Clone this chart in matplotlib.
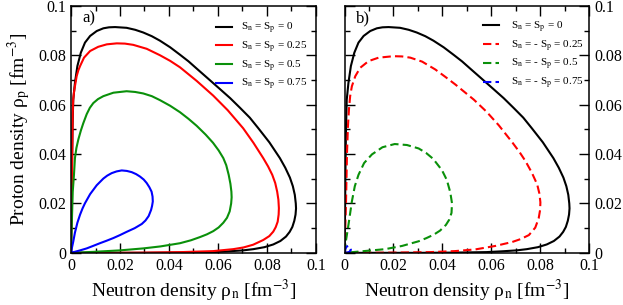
import numpy as np
import matplotlib
matplotlib.use("Agg")
from matplotlib import pyplot as plt
from matplotlib.ticker import MultipleLocator, FixedLocator, FixedFormatter

plt.rcParams["font.family"] = "serif"
plt.rcParams["font.serif"] = ["Liberation Serif", "DejaVu Serif"]
plt.rcParams["mathtext.fontset"] = "stix"

# curve shared by both panels (Sn = Sp = 0)
BLACK_X = [0, 0.0002, 0.0004, 0.0006, 0.0009, 0.0016, 0.0026, 0.004, 0.0057, 0.0078, 0.0105,
           0.0132, 0.0155, 0.018, 0.0227, 0.0262, 0.0295, 0.033, 0.0363, 0.0405, 0.0445,
           0.048, 0.0513, 0.056, 0.0608, 0.065, 0.069, 0.073, 0.0765, 0.081, 0.0853, 0.0875,
           0.0894, 0.0906, 0.0914, 0.0918, 0.0919, 0.0917, 0.0912, 0.0904, 0.0893, 0.0878,
           0.0855, 0.0826, 0.079, 0.0745, 0.0703, 0.064, 0.058, 0.045, 0.03, 0]
BLACK_Y = [0, 0.015, 0.035, 0.05, 0.062, 0.0689, 0.0757, 0.0811, 0.0852, 0.0879, 0.0899,
           0.091, 0.0914, 0.0915, 0.0912, 0.0904, 0.0893, 0.0878, 0.086, 0.0833, 0.0803,
           0.0776, 0.0747, 0.0706, 0.0664, 0.0627, 0.0588, 0.0548, 0.0505, 0.0448, 0.0384,
           0.0345, 0.0305, 0.027, 0.0235, 0.02, 0.018, 0.0155, 0.013, 0.0105, 0.0085, 0.0066,
           0.0048, 0.0034, 0.0023, 0.0015, 0.001, 0.0006, 0.0003, 0.0001, 0, 0]

# panel a)
RED_X = [0, 0.0003, 0.0005, 0.0007, 0.0009, 0.0012, 0.0016, 0.0023, 0.003, 0.0037, 0.0053,
         0.0078, 0.0111, 0.0146, 0.0187, 0.022, 0.0254, 0.0309, 0.0363, 0.0405, 0.0445,
         0.0513, 0.0581, 0.064, 0.0703, 0.0745, 0.0785, 0.0805, 0.0822, 0.0834, 0.0842,
         0.0847, 0.0849, 0.0848, 0.0844, 0.0836, 0.0826, 0.081, 0.0785, 0.0744, 0.0705,
         0.0663, 0.058, 0.045, 0.03, 0.015, 0]
RED_Y = [0, 0.02, 0.04, 0.0568, 0.062, 0.065, 0.0675, 0.0716, 0.074, 0.0757, 0.0791,
         0.0818, 0.0835, 0.0845, 0.0849, 0.0848, 0.0843, 0.0827, 0.0801, 0.0778, 0.0752,
         0.0697, 0.0637, 0.0578, 0.0505, 0.0446, 0.0384, 0.035, 0.0316, 0.0283, 0.0248,
         0.0215, 0.0181, 0.0155, 0.0126, 0.0104, 0.0086, 0.0068, 0.0052, 0.0033, 0.0022,
         0.0015, 0.0007, 0.0003, 0.0001, 0, 0]

GREEN_X = [0, 0.0003, 0.0007, 0.0012, 0.0016, 0.0022, 0.003, 0.004, 0.005, 0.0064, 0.0077,
           0.0091, 0.011, 0.0132, 0.0173, 0.0227, 0.0262, 0.0295, 0.033, 0.0363, 0.0405,
           0.0445, 0.048, 0.0513, 0.055, 0.058, 0.0603, 0.0622, 0.0634, 0.0644, 0.0651,
           0.0655, 0.0656, 0.0654, 0.0648, 0.0637, 0.0622, 0.0603, 0.0581, 0.0555, 0.0527,
           0.049, 0.0445, 0.0365, 0.0295, 0.02, 0.0091, 0]
GREEN_Y = [0, 0.0113, 0.0248, 0.0316, 0.0384, 0.0425, 0.046, 0.0495, 0.0525, 0.0562, 0.0588,
           0.0607, 0.0623, 0.0635, 0.0649, 0.0655, 0.0652, 0.0646, 0.0635, 0.0619, 0.0596,
           0.057, 0.0543, 0.0515, 0.0479, 0.0446, 0.0415, 0.0384, 0.0355, 0.0316, 0.028,
           0.0248, 0.0225, 0.02, 0.0168, 0.0142, 0.0122, 0.0103, 0.0088, 0.0075, 0.0064,
           0.0051, 0.0039, 0.0026, 0.0018, 0.001, 0.0004, 0]

BLUE_X = [0, 0.0004, 0.0009, 0.0016, 0.0026, 0.0037, 0.0047, 0.0057, 0.0078, 0.0105, 0.0132,
          0.0148, 0.0166, 0.0186, 0.0207, 0.0228, 0.0248, 0.0266, 0.0282, 0.0297, 0.0309,
          0.032, 0.0329, 0.0333, 0.0334, 0.0331, 0.0327, 0.0317, 0.0304, 0.0289, 0.026,
          0.0227, 0.02, 0.0173, 0.0145, 0.0118, 0.009, 0.0064, 0.0037, 0.0015, 0]
BLUE_Y = [0, 0.0022, 0.0045, 0.0082, 0.0122, 0.0155, 0.018, 0.0201, 0.0238, 0.0274, 0.0301,
          0.0313, 0.0323, 0.033, 0.0334, 0.0332, 0.0327, 0.0319, 0.0309, 0.0297, 0.0283,
          0.0266, 0.0248, 0.0228, 0.0208, 0.019, 0.0174, 0.0149, 0.0131, 0.0117, 0.01,
          0.0085, 0.0072, 0.006, 0.0049, 0.0039, 0.0028, 0.0018, 0.001, 0.0004, 0]

# panel b)
RED_B_X = [0, 0.0006, 0.001, 0.0014, 0.0018, 0.0023, 0.003, 0.0044, 0.0064, 0.0098, 0.0139,
           0.02, 0.0235, 0.0269, 0.0317, 0.0371, 0.0412, 0.0453, 0.0528, 0.058, 0.063,
           0.0685, 0.0715, 0.0739, 0.0765, 0.0787, 0.0796, 0.08, 0.0799, 0.0793, 0.0779,
           0.0753, 0.072, 0.0685, 0.0616, 0.0535, 0.045, 0.035, 0.02, 0]
RED_B_Y = [0, 0.02, 0.04, 0.0513, 0.058, 0.0635, 0.0675, 0.0716, 0.075, 0.0777, 0.0791,
           0.0797, 0.0796, 0.0791, 0.0775, 0.0743, 0.0713, 0.0682, 0.0621, 0.0572, 0.0517,
           0.0448, 0.0408, 0.0372, 0.0325, 0.0277, 0.024, 0.0205, 0.0175, 0.014, 0.0102,
           0.0072, 0.0056, 0.0044, 0.0028, 0.0014, 0.0007, 0.0003, 0.0001, 0]

GREEN_B_X = [0, 0.0006, 0.0016, 0.003, 0.0042, 0.0057, 0.008, 0.0112, 0.0155, 0.0205, 0.0255,
             0.0303, 0.0333, 0.0362, 0.0398, 0.0418, 0.0432, 0.0439, 0.0437, 0.0428, 0.0414,
             0.039, 0.0365, 0.0335, 0.0303, 0.0235, 0.0166, 0.0057, 0]
GREEN_B_Y = [0, 0.005, 0.0113, 0.0208, 0.027, 0.0316, 0.0364, 0.0399, 0.0428, 0.0441, 0.0437,
             0.0423, 0.0405, 0.0381, 0.0335, 0.0295, 0.0245, 0.0201, 0.0162, 0.0135, 0.0113,
             0.009, 0.0074, 0.006, 0.0047, 0.0028, 0.0015, 0.0005, 0]

BLUE_B_X = [0, 0.0003, 0.0008, 0.0016, 0.0024, 0.0026, 0.002, 0.001, 0]
BLUE_B_Y = [0, 0.0015, 0.0025, 0.0028, 0.0022, 0.0012, 0.0004, 0.0001, 0]

TICKS = [0, 0.02, 0.04, 0.06, 0.08, 0.1]
TICK_LABELS = ["0", "0.02", "0.04", "0.06", "0.08", "0.1"]

LABELS_A = [r"S$_{\rm n}$ = S$_{\rm p}$ = 0", r"S$_{\rm n}$ = S$_{\rm p}$ = 0.25",
            r"S$_{\rm n}$ = S$_{\rm p}$ = 0.5", r"S$_{\rm n}$ = S$_{\rm p}$ = 0.75"]
LABELS_B = [r"S$_{\rm n}$ = S$_{\rm p}$ = 0", r"S$_{\rm n}$ = - S$_{\rm p}$ = 0.25",
            r"S$_{\rm n}$ = - S$_{\rm p}$ = 0.5", r"S$_{\rm n}$ = - S$_{\rm p}$ = 0.75"]

GREEN = "#0a900a"
LW = 1.5

fig = plt.figure(figsize=(6.23, 3.05), dpi=100)
ax1 = fig.add_axes([0.114, 0.171, 0.393, 0.809])
ax2 = fig.add_axes([0.553, 0.171, 0.393, 0.809])


def style(ax, right=False):
    ax.set_xlim(0, 0.1)
    ax.set_ylim(0, 0.1)
    for a in (ax.xaxis, ax.yaxis):
        a.set_major_locator(FixedLocator(TICKS))
        a.set_major_formatter(FixedFormatter(TICK_LABELS))
        a.set_minor_locator(MultipleLocator(0.01))
    ax.tick_params(which="both", direction="in", top=True, right=True, width=1,
                   labelsize=11.5)
    ax.tick_params(which="major", length=7)
    ax.tick_params(which="minor", length=3.6)
    if right:
        ax.tick_params(axis="y", labelleft=False, labelright=True)
    for s in ax.spines.values():
        s.set_linewidth(1.1)
    ax.set_xlabel(r"Neutron density ρ$_{\rm n}$ [fm$^{-3}$]", fontsize=14, labelpad=3)


def legend(ax, anchor, textpad):
    ax.legend(loc="upper right", bbox_to_anchor=anchor, frameon=False, fontsize=8,
              handlelength=1.45, handletextpad=textpad, labelspacing=0.33,
              borderaxespad=0, borderpad=0)


ax1.plot(BLACK_X, BLACK_Y, color="black", lw=LW, label=LABELS_A[0])
ax1.plot(RED_X, RED_Y, color="red", lw=LW, label=LABELS_A[1])
ax1.plot(GREEN_X, GREEN_Y, color=GREEN, lw=LW, label=LABELS_A[2])
ax1.plot(BLUE_X, BLUE_Y, color="blue", lw=LW, label=LABELS_A[3])
style(ax1)
ax1.set_ylabel(r"Proton density ρ$_{\rm p}$ [fm$^{-3}$]", fontsize=14, labelpad=4)
ax1.text(0.045, 0.95, "a)", transform=ax1.transAxes, fontsize=12, va="center")
legend(ax1, (0.965, 0.94), 0.85)

ax2.plot(BLACK_X, BLACK_Y, color="black", lw=LW, label=LABELS_B[0])
ax2.plot(RED_B_X, RED_B_Y, color="red", lw=LW, dashes=(4, 2), label=LABELS_B[1])
ax2.plot(GREEN_B_X, GREEN_B_Y, color=GREEN, lw=LW, dashes=(4, 2), label=LABELS_B[2])
ax2.plot(BLUE_B_X, BLUE_B_Y, color="blue", lw=LW, dashes=(4, 2), label=LABELS_B[3])
style(ax2, right=True)
ax2.text(0.045, 0.95, "b)", transform=ax2.transAxes, fontsize=12, va="center")
legend(ax2, (0.975, 0.945), 1.0)

fig.savefig("out.png", dpi=100)
